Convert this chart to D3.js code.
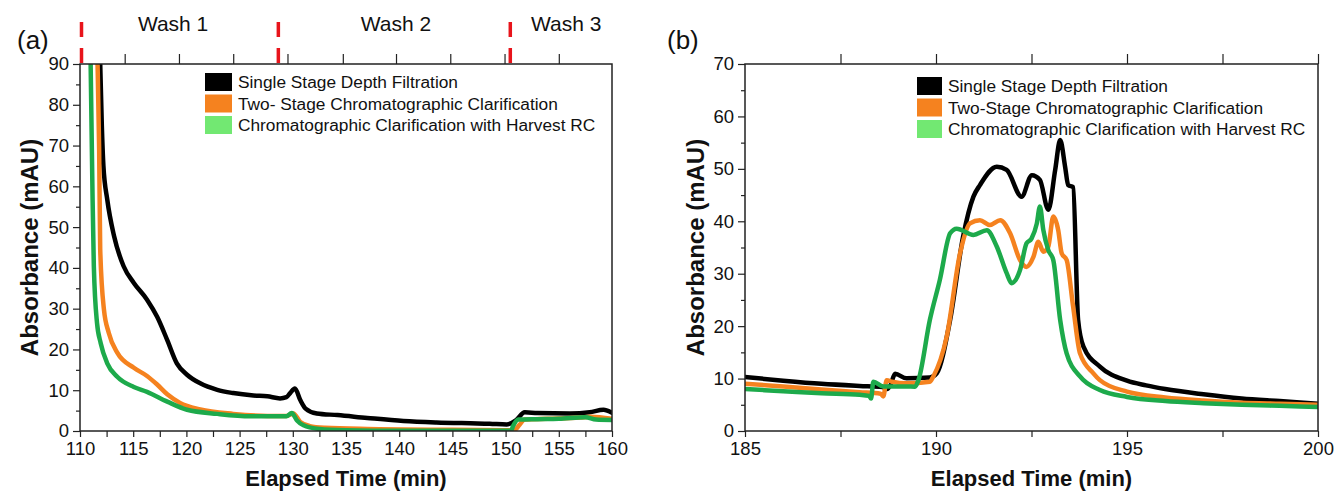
<!DOCTYPE html>
<html><head><meta charset="utf-8">
<script src="https://cdn.jsdelivr.net/npm/d3@7/dist/d3.min.js"></script>
<style>
html,body{margin:0;padding:0;background:#fff;}
svg text{font-family:"Liberation Sans",Arial,sans-serif;fill:#111;}
</style></head>
<body><svg id="c" width="1335" height="493"></svg>
<script>
// ---------- DATA ----------
const seriesNames = ["Single Stage Depth Filtration", "Two- Stage Chromatographic Clarification", "Chromatographic Clarification with Harvest RC"];
const seriesNamesB = ["Single Stage Depth Filtration", "Two-Stage Chromatographic Clarification", "Chromatographic Clarification with Harvest RC"];

// Panel (a)
const xTicksA = [110,112.5,115,117.5,120,122.5,125,127.5,130,132.5,135,137.5,140,142.5,145,147.5,150,152.5,155,157.5,160];
const yTicksA = [0,10,20,30,40,50,60,70,80,90];
const topTicksA = [114.2,119.3,124.4,129.5,134.7,139.7,144.8,149.9,155.0];
const washMarks = [110, 128.5, 150.3];
const washLabels = ["Wash 1","Wash 2","Wash 3"];
const washLabelPos = [118.75, 139.7, 155.7];

const tA_black = [111.75,111.9,112.05,112.2,112.56,113.2,114.1,115.06,116.3,117.25,118.2,119.1,120.06,121.3,122.9,124.4,126.3,127.6,128.8,129.4,129.75,130.2,130.7,131.2,132.25,134.2,137,140.4,143.5,146.7,148.5,150.1,151.0,151.8,153,156.05,157.9,159.2,160];
const vA_black = [100,90,75,65,56.8,47.8,40.4,36.3,32.2,28,22.3,16.6,13.8,11.7,10.1,9.3,8.7,8.5,8.0,8.3,9.3,10.4,7.6,5.5,4.3,3.9,3.2,2.45,2.1,1.9,1.8,1.6,2.7,4.6,4.4,4.3,4.6,5.2,4.5];

const tA_orange = [111.55,111.65,111.8,111.9,112.25,112.7,113.5,115.06,116.3,117.25,118.2,119.4,121.3,124.4,127.6,129.4,130.06,130.7,131.6,133,137,145,150.8,151.3,151.8,154,157,158,160];
const vA_orange = [100,90,69,44.5,29.8,24.1,19.2,15.5,13.5,11.4,9.0,6.9,5.3,4.2,3.7,3.7,4.3,2.2,1.2,0.8,0.5,0.3,0.2,1.5,2.8,3.0,3.3,3.5,3.0];

const tA_green = [110.95,111.0,111.16,111.3,111.6,111.94,112.56,113.5,115.06,116.3,118.2,120.06,122.9,126,129.4,129.9,130.4,131.0,132.5,135,140,150.5,150.7,151.2,153,155,157.5,158.5,160];
const vA_green = [100,90,60.9,40.4,26.5,21.6,16.6,13.3,10.8,9.6,7.2,5.2,4.2,3.6,3.6,4.4,2.6,1.4,0.5,0.2,0.05,0.05,1.2,2.8,2.9,3.0,3.4,2.8,2.7];

// Panel (b)
const xTicksB = [185,190,195,200];
const xMinorB = [187.5,192.5,197.5];
const yTicksB = [0,10,20,30,40,50,60,70];
const topTicksB = [187.5,190,192.5,195,197.5,200];

const tB_black = [185,186,187,188,188.6,188.72,188.8,188.93,189.23,189.84,190.02,190.37,190.71,190.98,191.15,191.59,191.85,192.24,192.51,192.72,192.94,193.12,193.25,193.38,193.46,193.59,193.72,193.86,194.29,195,195.5,196,197,198,199,200];
const vB_black = [10.3,9.6,9.0,8.6,8.4,8.0,8.6,10.9,10.05,10.2,11.0,21.2,37.1,44.7,46.9,50.4,49.8,44.7,48.8,47.9,42.2,49.8,55.5,50.4,46.9,46.5,21.2,16.1,12.3,9.6,8.7,8.0,7.0,6.2,5.7,5.2];

const tB_orange = [185,186,187,188,188.55,188.62,188.71,188.85,189.23,189.84,189.93,190.28,190.63,190.89,191.15,191.41,191.68,191.94,192.2,192.37,192.55,192.68,192.81,192.94,193.07,193.2,193.29,193.42,193.59,193.77,194.12,194.29,195,196,197,198,199,200];
const vB_orange = [9.0,8.5,7.9,7.4,7.1,6.6,9.7,9.4,9.1,9.4,10.4,18.0,33.9,39.6,40.2,39.3,40.2,37.7,32.6,31.3,33.2,36.1,34.2,35.2,40.9,38.3,33.9,32.6,23.7,14.8,11.0,9.7,7.5,6.4,5.8,5.4,5.2,5.0];

const tB_green = [185,186,187,188,188.25,188.3,188.36,188.62,189.23,189.45,189.54,189.84,190.1,190.37,190.54,190.98,191.33,191.59,191.85,191.98,192.2,192.37,192.5,192.64,192.72,192.81,192.94,193.07,193.25,193.42,193.77,194.29,195,196,197,198,199,200];
const vB_green = [8.0,7.6,7.2,6.9,6.7,6.2,9.4,8.5,8.5,8.45,9.7,21.2,28.8,37.7,38.6,37.4,38.3,35.2,30.1,28.2,30.7,35.8,36.7,39.6,42.8,38.3,34.5,32.6,21.2,14.8,10.4,7.8,6.5,5.7,5.3,5.0,4.8,4.6];

const lineColors = ["#000000","#F5821F","#1DAA4B"];
const swatchColors = ["#000000","#F5821F","#72E872"];

// ---------- DRAW ----------
const svg = d3.select("#c");
const zip = (t,v)=>t.map((x,i)=>[x,v[i]]);
const styleTicks = a=>{a.select(".domain").remove();a.selectAll("line").attr("stroke","#222").attr("stroke-width",1.2);};

function panel(opts){
  const {x0,x1,y0,y1,xDom,yDom,id} = opts;
  const x = d3.scaleLinear().domain(xDom).range([x0,x1]);
  const y = d3.scaleLinear().domain(yDom).range([y1,y0]);
  const g = svg.append("g");
  g.append("clipPath").attr("id",id).append("rect")
    .attr("x",x0).attr("y",y0).attr("width",x1-x0).attr("height",y1-y0);

  const line = d3.line().x(d=>x(d[0])).y(d=>y(d[1])).curve(d3.curveMonotoneX);
  opts.series.forEach((s,i)=>{
    g.append("path").attr("d",line(s)).attr("fill","none")
      .attr("stroke",lineColors[i]).attr("stroke-width",4.5)
      .attr("stroke-linejoin","round").attr("stroke-linecap","round")
      .attr("clip-path",`url(#${id})`);
  });

  g.append("rect").attr("x",x0).attr("y",y0).attr("width",x1-x0).attr("height",y1-y0)
    .attr("fill","none").attr("stroke","#222").attr("stroke-width",1.5);

  g.append("g").attr("transform",`translate(0,${y1})`)
    .call(d3.axisBottom(x).tickValues(opts.xTickMarks).tickFormat("").tickSize(6)).call(styleTicks);
  const xl = g.append("g").attr("transform",`translate(0,${y1})`)
    .call(d3.axisBottom(x).tickValues(opts.xLabels).tickFormat(d3.format("d")).tickSize(0).tickPadding(11));
  xl.select(".domain").remove();
  xl.selectAll("text").style("font-size","18.5px").attr("fill","#111");

  g.append("g").attr("transform",`translate(0,${y0})`)
    .call(d3.axisTop(x).tickValues(opts.topTicks).tickFormat("").tickSize(10)).call(styleTicks);

  const ya = g.append("g").attr("transform",`translate(${x0},0)`)
    .call(d3.axisLeft(y).tickValues(opts.yTicks).tickSize(7).tickPadding(4));
  styleTicks(ya);
  ya.selectAll("text").style("font-size","18.5px").attr("fill","#111");
  const yMinor = opts.yTicks.slice(0,-1).map(v=>v+5);
  g.append("g").attr("transform",`translate(${x0},0)`)
    .call(d3.axisLeft(y).tickValues(yMinor).tickFormat("").tickSize(4)).call(styleTicks);

  g.append("text").attr("x",(x0+x1)/2).attr("y",486).attr("text-anchor","middle")
    .style("font-size","22px").style("font-weight","bold").text("Elapsed Time (min)");
  g.append("text").attr("transform",`translate(${opts.ytx},${(y0+y1)/2}) rotate(-90)`)
    .attr("text-anchor","middle").style("font-size","24px").style("font-weight","bold").text("Absorbance (mAU)");
  g.append("text").attr("x",opts.labX).attr("y",49).style("font-size","26px").text(opts.label);

  opts.names.forEach((n,i)=>{
    const cy = opts.legY + i*opts.legDy;
    g.append("rect").attr("x",opts.legX).attr("y",cy-9).attr("width",opts.swW).attr("height",18)
      .attr("fill",swatchColors[i]);
    g.append("text").attr("x",opts.legX+opts.swW+6).attr("y",cy+6).style("font-size","17.3px").text(n);
  });
  return {x,y,g};
}

panel({id:"clipA",x0:80,x1:612,y0:64,y1:431,xDom:[110,160],yDom:[0,90],
  xTickMarks:xTicksA, xLabels:xTicksA.filter(d=>d%5===0), yTicks:yTicksA, topTicks:topTicksA,
  series:[zip(tA_black,vA_black),zip(tA_orange,vA_orange),zip(tA_green,vA_green)],
  ytx:38, labX:17, label:"(a)", names:seriesNames, legX:205, legY:82, legDy:21.5, swW:27});

panel({id:"clipB",x0:745,x1:1318,y0:64,y1:431,xDom:[185,200],yDom:[0,70],
  xTickMarks:xTicksB.concat(xMinorB), xLabels:xTicksB, yTicks:yTicksB, topTicks:topTicksB,
  series:[zip(tB_black,vB_black),zip(tB_orange,vB_orange),zip(tB_green,vB_green)],
  ytx:704, labX:667, label:"(b)", names:seriesNamesB, legX:917, legY:86, legDy:21.5, swW:25});

// wash markers
const xw = d3.scaleLinear().domain([110,160]).range([80,612]);
svg.selectAll(".wm").data(washMarks).enter().append("line")
  .attr("x1",d=>xw(d)+1.5).attr("x2",d=>xw(d)+1.5).attr("y1",22).attr("y2",63)
  .attr("stroke","#E8141B").attr("stroke-width",3.5).attr("stroke-dasharray","15,11");
svg.selectAll(".wl").data(washLabels).enter().append("text")
  .attr("x",(d,i)=>xw(washLabelPos[i])).attr("y",31).attr("text-anchor","middle")
  .style("font-size","21px").text(d=>d);
</script></body></html>
